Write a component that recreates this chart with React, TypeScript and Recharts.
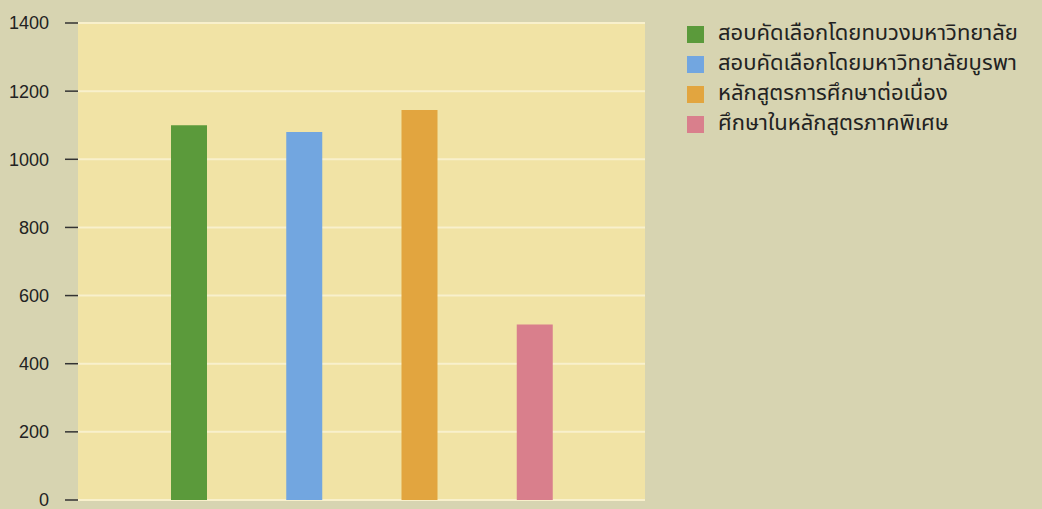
import React from 'react';
import { BarChart, Bar, XAxis, YAxis, CartesianGrid, Legend } from 'recharts';

const categories = ['ทบวงมหาวิทยาลัย', 'มหาวิทยาลัยบูรพา', 'ต่อเนื่อง', 'ภาคพิเศษ'];
const seriesNames = [
  'สอบคัดเลือกโดยทบวงมหาวิทยาลัย',
  'สอบคัดเลือกโดยมหาวิทยาลัยบูรพา',
  'หลักสูตรการศึกษาต่อเนื่อง',
  'ศึกษาในหลักสูตรภาคพิเศษ',
];
const values = [1100, 1080, 1145, 515];
const colors = ['#5b9a3b', '#72a6e0', '#e2a53f', '#d97f8c'];
const yTicks = [0, 200, 400, 600, 800, 1000, 1200, 1400];

const data = categories.map((c, j) => {
  const row: Record<string, any> = { name: c };
  seriesNames.forEach((_, i) => {
    row['s' + i] = i === j ? values[j] : null;
  });
  return row;
});

const thaiFont = '"Noto Sans Thai", "Noto Sans", "DejaVu Sans", sans-serif';

const LegendContent = (props: any) => {
  const payload = [...(props.payload || [])].sort(
    (a: any, b: any) => seriesNames.indexOf(a.value) - seriesNames.indexOf(b.value)
  );
  return (
    <div style={{ fontFamily: thaiFont }}>
      {payload.map((p: any, i: number) => (
        <div key={i} style={{ display: 'flex', alignItems: 'center', height: 30 }}>
          <div style={{ width: 17, height: 17, background: p.color, marginRight: 14, flex: 'none' }} />
          <span style={{ fontSize: 22, lineHeight: '28px', height: 28, color: '#222', whiteSpace: 'nowrap' }}>{p.value}</span>
        </div>
      ))}
    </div>
  );
};

export default function App() {
  return (
    <div style={{ position: 'absolute', left: 0, top: 0, width: 1042, height: 509, background: '#d7d4b1' }}>
      <BarChart width={1042} height={509} data={data} margin={{ top: 23, right: 397, bottom: 9, left: 0 }}>
        <CartesianGrid vertical={false} fill="#f1e3a5" stroke="#f8f0cc" strokeWidth={2} />
        <XAxis dataKey="name" hide padding={{ left: 53, right: 53 }} />
        <YAxis
          width={78}
          domain={[0, 1400]}
          ticks={yTicks}
          interval={0}
          axisLine={false}
          tickSize={13}
          tickMargin={16}
          tickLine={{ stroke: '#333', strokeWidth: 1.5 }}
          tick={{ fill: '#222', fontSize: 18, fontFamily: '"Liberation Sans", sans-serif' }}
        />
        {seriesNames.map((n, i) => (
          <Bar key={n} dataKey={'s' + i} name={n} stackId="a" fill={colors[i]} barSize={36} isAnimationActive={false} />
        ))}
        <Legend
          layout="vertical"
          align="center"
          verticalAlign="middle"
          itemSorter={null as any}
          content={<LegendContent />}
          wrapperStyle={{ left: 687, top: 19, width: 355 }}
        />
      </BarChart>
    </div>
  );
}
